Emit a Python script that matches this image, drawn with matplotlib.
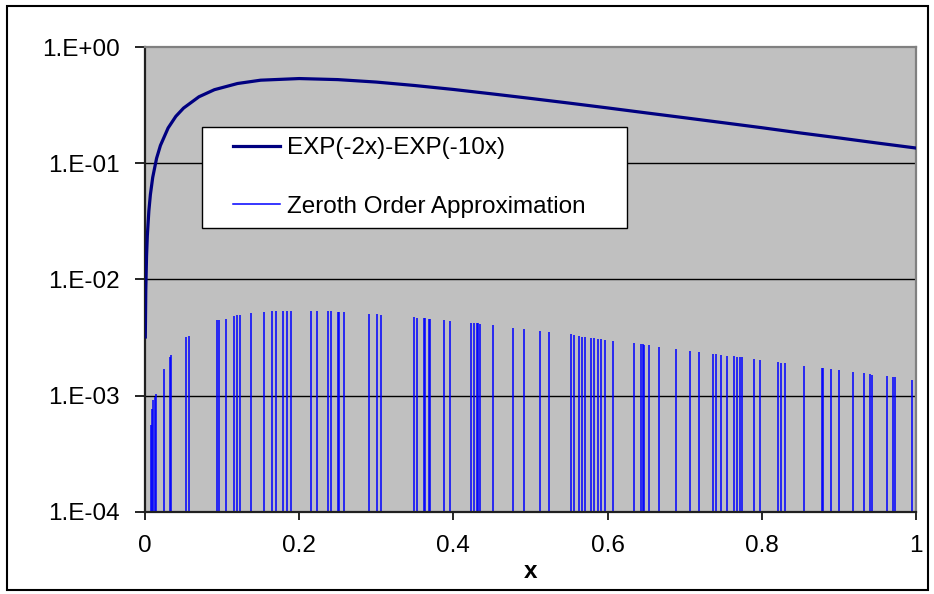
import numpy as np
import matplotlib
matplotlib.use("Agg")
import matplotlib.pyplot as plt
from matplotlib.legend_handler import HandlerLine2D
from matplotlib.lines import Line2D
from matplotlib.patches import Rectangle
from matplotlib.ticker import FixedLocator, FixedFormatter, NullLocator

# ---------------- data ----------------
curve_x = [0.0004, 0.001, 0.002, 0.003, 0.005, 0.007, 0.01, 0.015, 0.02, 0.03,
           0.04, 0.05, 0.07, 0.09, 0.12, 0.15, 0.2, 0.25, 0.3, 0.35, 0.4, 0.45,
           0.5, 0.55, 0.6, 0.65, 0.7, 0.75, 0.8, 0.85, 0.9, 0.95, 1.0]
curve_y = [0.00319, 0.00795, 0.0158, 0.0236, 0.0388, 0.0537, 0.0754, 0.110,
           0.142, 0.201, 0.253, 0.298, 0.373, 0.429, 0.485, 0.518, 0.535,
           0.524, 0.499, 0.466, 0.431, 0.395, 0.361, 0.329, 0.299, 0.271,
           0.246, 0.223, 0.202, 0.182, 0.165, 0.149, 0.135]

spike_x = [0.0074, 0.0091, 0.0108, 0.0126, 0.0143, 0.0242, 0.032, 0.0342,
           0.0527, 0.0566, 0.0934, 0.0955, 0.1055, 0.1154, 0.1193, 0.1237,
           0.1379, 0.1539, 0.1643, 0.1699, 0.179, 0.1842, 0.1889, 0.2153,
           0.2231, 0.2374, 0.2412, 0.2499, 0.2516, 0.2581, 0.2905, 0.3009,
           0.3065, 0.3489, 0.3532, 0.3619, 0.3632, 0.3679, 0.3696, 0.3878,
           0.396, 0.4224, 0.4267, 0.4302, 0.4319, 0.4345, 0.451, 0.4769,
           0.4916, 0.5119, 0.524, 0.5521, 0.556, 0.5625, 0.5664, 0.5703,
           0.5781, 0.5824, 0.5871, 0.591, 0.597, 0.607, 0.6338, 0.6433,
           0.6455, 0.6476, 0.6537, 0.6663, 0.6887, 0.7069, 0.719, 0.7371,
           0.7406, 0.7471, 0.7553, 0.7635, 0.7678, 0.7717, 0.7739, 0.7899,
           0.7981, 0.8206, 0.8245, 0.8305, 0.8547, 0.8777, 0.8794, 0.8893,
           0.8997, 0.9183, 0.9322, 0.9403, 0.9425, 0.9624, 0.9706, 0.9728,
           0.9948]
spike_y = [5.6e-4, 7.6e-4, 9.2e-4, 9.8e-4, 1.04e-3, 1.69e-3, 2.16e-3, 2.25e-3,
           3.17e-3, 3.26e-3, 4.45e-3, 4.47e-3, 4.57e-3, 4.87e-3, 4.9e-3, 4.95e-3,
           5.15e-3, 5.25e-3, 5.3e-3, 5.32e-3, 5.34e-3, 5.35e-3, 5.35e-3, 5.35e-3,
           5.34e-3, 5.32e-3, 5.31e-3, 5.28e-3, 5.27e-3, 5.25e-3, 5.06e-3, 4.99e-3,
           4.95e-3, 4.72e-3, 4.69e-3, 4.63e-3, 4.62e-3, 4.6e-3, 4.59e-3, 4.47e-3,
           4.42e-3, 4.23e-3, 4.21e-3, 4.18e-3, 4.17e-3, 4.15e-3, 4.05e-3, 3.81e-3,
           3.72e-3, 3.6e-3, 3.52e-3, 3.36e-3, 3.29e-3, 3.25e-3, 3.22e-3, 3.2e-3,
           3.15e-3, 3.12e-3, 3.09e-3, 3.07e-3, 3.03e-3, 2.97e-3, 2.81e-3, 2.76e-3,
           2.75e-3, 2.74e-3, 2.7e-3, 2.64e-3, 2.52e-3, 2.43e-3, 2.37e-3, 2.29e-3,
           2.27e-3, 2.24e-3, 2.2e-3, 2.17e-3, 2.15e-3, 2.14e-3, 2.13e-3, 2.06e-3,
           2.03e-3, 1.94e-3, 1.92e-3, 1.9e-3, 1.81e-3, 1.73e-3, 1.72e-3, 1.69e-3,
           1.65e-3, 1.59e-3, 1.55e-3, 1.52e-3, 1.51e-3, 1.46e-3, 1.44e-3, 1.43e-3,
           1.37e-3]

series_names = ["EXP(-2x)-EXP(-10x)", "Zeroth Order Approximation"]
y_ticks = [1e-4, 1e-3, 1e-2, 1e-1, 1e0]
y_tick_labels = ["1.E-04", "1.E-03", "1.E-02", "1.E-01", "1.E+00"]
x_ticks = [0, 0.2, 0.4, 0.6, 0.8, 1.0]
x_tick_labels = ["0", "0.2", "0.4", "0.6", "0.8", "1"]
x_label = "x"

CURVE_COLOR = '#000080'
SPIKE_COLOR = '#0000FF'
CURVE_LW = 2.3
SPIKE_LW = 1.1

# ---------------- figure ----------------
W, H = 934, 594
plt.rcParams['font.family'] = ['Liberation Sans', 'DejaVu Sans']
fig = plt.figure(figsize=(W / 100, H / 100), dpi=100)
fig.patch.set_facecolor('white')

# outer chart border
fig.patches.append(Rectangle((7 / W, 1 - 590 / H), (928 - 7) / W, (590 - 6) / H,
                             transform=fig.transFigure, fill=False,
                             edgecolor='black', linewidth=1.5, zorder=0))

x0, x1, y0, y1 = 145, 916, 47, 511.7
ax = fig.add_axes([x0 / W, 1 - y1 / H, (x1 - x0) / W, (y1 - y0) / H])
ax.set_facecolor('#C0C0C0')
ax.set_yscale('log')
ax.set_xlim(0, 1)
ax.set_ylim(1e-4, 1)

for yt in y_ticks[1:-1]:
    ax.axhline(yt, color='black', linewidth=1.0, zorder=1)

ax.vlines(spike_x, 1e-4, spike_y, colors=SPIKE_COLOR, linewidth=SPIKE_LW, zorder=2)
ax.plot(curve_x, curve_y, color=CURVE_COLOR, linewidth=CURVE_LW, zorder=3,
        solid_joinstyle='round')

ax.yaxis.set_major_locator(FixedLocator(y_ticks))
ax.yaxis.set_major_formatter(FixedFormatter(y_tick_labels))
ax.yaxis.set_minor_locator(NullLocator())
ax.xaxis.set_major_locator(FixedLocator(x_ticks))
ax.xaxis.set_major_formatter(FixedFormatter(x_tick_labels))
ax.xaxis.set_minor_locator(NullLocator())

ax.tick_params(axis='y', direction='out', length=7, width=1.2, pad=11,
               labelsize=17.5, colors='black')
ax.tick_params(axis='x', direction='out', length=6, width=1.2, pad=11,
               labelsize=17.5, colors='black')

for s in ['left', 'bottom']:
    ax.spines[s].set_color('#202020')
    ax.spines[s].set_linewidth(1.6)
for s in ['top', 'right']:
    ax.spines[s].set_color('#808080')
    ax.spines[s].set_linewidth(1.6)

ax.set_xlabel(x_label, fontsize=17.5, fontweight='bold', labelpad=2)

# ---------------- legend ----------------
LINE_PT = 47 * 0.72


class RightLine2D(HandlerLine2D):
    def get_xdata(self, legend, xdescent, ydescent, width, height, fontsize):
        xd = np.array([-xdescent + width - LINE_PT, -xdescent + width])
        return xd, xd


handles = [Line2D([], [], color=CURVE_COLOR, linewidth=CURVE_LW),
           Line2D([], [], color=SPIKE_COLOR, linewidth=SPIKE_LW)]
lfs = 17.5
lpx = lfs / 0.72
lx0, ly0, lx1 = 202, 127, 627
leg = ax.legend(handles, series_names, loc='upper left',
                bbox_to_anchor=(lx0 / W, 0.3, (lx1 - lx0) / W, 1 - ly0 / H - 0.3),
                bbox_transform=fig.transFigure, mode='expand', borderaxespad=0,
                fontsize=lfs, frameon=True, fancybox=False, shadow=False,
                framealpha=1, edgecolor='black', borderpad=0.42,
                handlelength=68 / lpx, handletextpad=7 / lpx,
                labelspacing=1.51,
                handler_map={Line2D: RightLine2D()})
leg.get_frame().set_linewidth(1.0)
leg.set_zorder(5)

fig.savefig('out.png', dpi=100)
